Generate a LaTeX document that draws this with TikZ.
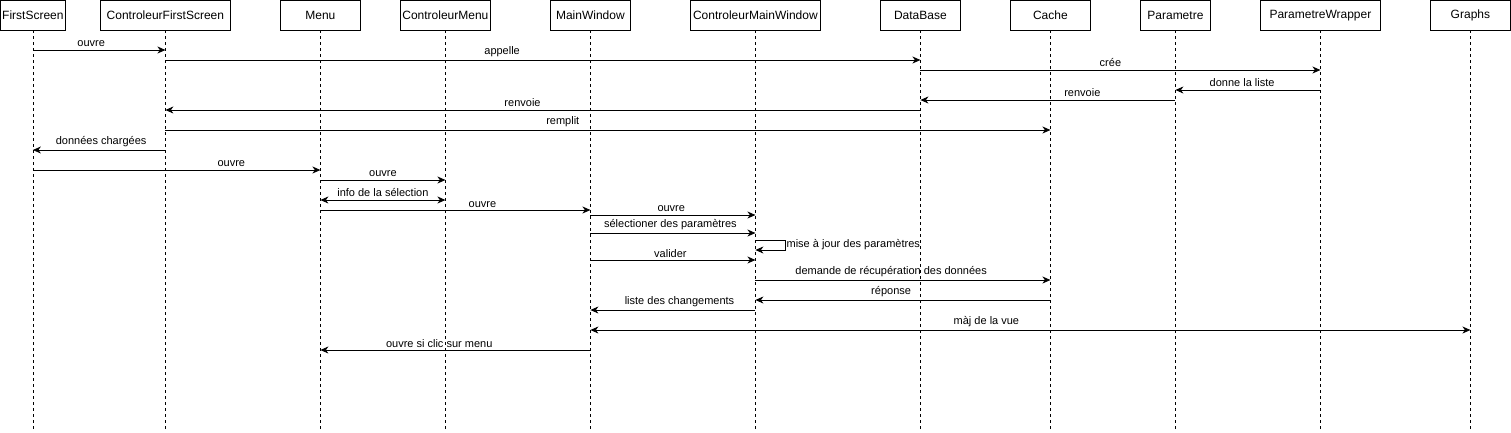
\documentclass[tikz,border=0pt]{standalone}
\usepackage{fontspec}
\setmainfont{Liberation Sans}
\usetikzlibrary{arrows.meta, positioning}

\begin{document}
\begin{tikzpicture}[x=1pt, y=-1pt,
    >={Stealth[length=8pt,width=7pt,inset=2.5pt]},
    actor/.style={draw, line width=0.8pt, minimum height=30pt, inner sep=1pt,
                  outer sep=0pt, font=\fontsize{12}{14}\selectfont},
    lifeline/.style={line width=0.8pt, dash pattern=on 3pt off 3pt},
    msg/.style={line width=0.8pt, every edge/.append style={->}},
    lbl/.style={above, inner sep=1pt, yshift=1.5pt, font=\fontsize{11}{13}\selectfont}]
    \useasboundingbox (0,0) rectangle (1511,432);
    % Add the participants
        \node[actor, anchor=north west,
              minimum width=65pt
              ] (fs) at (0.4,0.4) {FirstScreen};
        \node[actor,
              right=35pt of fs,
              minimum width=130pt
              ] (cfs) {ControleurFirstScreen};
        \node[actor,
              right=50pt of cfs,
              minimum width=80pt
              ] (menu) {Menu};
        \node[actor,
              right=40pt of menu,
              minimum width=90pt
              ] (cmenu) {ControleurMenu};
        \node[actor,
              right=60pt of cmenu,
              minimum width=80pt
              ] (mw) {MainWindow};
        \node[actor,
              right=60pt of mw,
              minimum width=130pt
              ] (cmw) {ControleurMainWindow};
        \node[actor,
              right=60pt of cmw,
              minimum width=80pt
              ] (db) {DataBase};
        \node[actor,
              right=50pt of db,
              minimum width=80pt
              ] (cache) {Cache};
        \node[actor,
              right=50pt of cache,
              minimum width=70pt
              ] (param) {Parametre};
        \node[actor,
              right=50pt of param,
              minimum width=120pt
              ] (pwrap) {ParametreWrapper};
        \node[actor,
              right=50pt of pwrap,
              minimum width=80pt
              ] (graphs) {Graphs};

    % Lifelines
    \draw[lifeline]
        (fs.south) -- (fs.south |- 0,430)
        (cfs.south) -- (cfs.south |- 0,430)
        (menu.south) -- (menu.south |- 0,430)
        (cmenu.south) -- (cmenu.south |- 0,430)
        (mw.south) -- (mw.south |- 0,430)
        (cmw.south) -- (cmw.south |- 0,430)
        (db.south) -- (db.south |- 0,430)
        (cache.south) -- (cache.south |- 0,430)
        (param.south) -- (param.south |- 0,430)
        (pwrap.south) -- (pwrap.south |- 0,430)
        (graphs.south) -- (graphs.south |- 0,430);

    % Loading phase
    \draw[msg]
        (fs |- 0,50) edge node[lbl, pos=.44] {ouvre} (cfs |- 0,50)
        (cfs |- 0,60) edge node[lbl, pos=.446] {appelle} (db |- 0,60)
        (db |- 0,70) edge node[lbl, pos=.475] {crée} (pwrap |- 0,70)
        (pwrap |- 0,90) edge node[lbl, pos=.54] {donne la liste} (param |- 0,90)
        (param |- 0,100) edge node[lbl, pos=.365] {renvoie} (db |- 0,100)
        (db |- 0,110) edge node[lbl, pos=.527] {renvoie} (cfs |- 0,110)
        (cfs |- 0,130) edge node[lbl, pos=.449] {remplit} (cache |- 0,130)
        (cfs |- 0,150) edge node[lbl, pos=.485] {données chargées} (fs |- 0,150)
        (fs |- 0,170) edge node[lbl, pos=.69] {ouvre} (menu |- 0,170);

    % Menu and main window
    \draw[msg]
        (menu |- 0,180) edge node[lbl, pos=.5] {ouvre} (cmenu |- 0,180)
        (menu |- 0,200) edge[<->] node[lbl, pos=.5] {info de la sélection} (cmenu |- 0,200)
        (menu |- 0,210) edge node[lbl, pos=.6] {ouvre} (mw |- 0,210)
        (mw |- 0,215) edge node[lbl, pos=.49] {ouvre} (cmw |- 0,215)
        (mw |- 0,233) edge node[lbl, pos=.485] {sélectioner des paramètres} (cmw |- 0,233)
        (mw |- 0,260) edge node[lbl, pos=.485] {valider} (cmw |- 0,260)
        (cmw |- 0,280) edge node[lbl, pos=.46] {demande de récupération des données} (cache |- 0,280)
        (cache |- 0,300) edge node[lbl, pos=.54] {réponse} (cmw |- 0,300)
        (cmw |- 0,310) edge node[lbl, pos=.46] {liste des changements} (mw |- 0,310)
        (mw |- 0,330) edge[<->] node[lbl, pos=.45] {màj de la vue} (graphs |- 0,330)
        (mw |- 0,350) edge node[lbl, pos=.56] {ouvre si clic sur menu} (menu |- 0,350);

    % self call
    \draw[msg, ->] (cmw |- 0,240) -- ++(30,0) coordinate (selfc) -- ++(0,10) -- (cmw |- 0,250);
    \node[anchor=west, inner sep=1pt, font=\fontsize{11}{13}\selectfont]
        (selfl) at ([yshift=-5pt]selfc) {mise à jour des paramètres};
\end{tikzpicture}
\end{document}
